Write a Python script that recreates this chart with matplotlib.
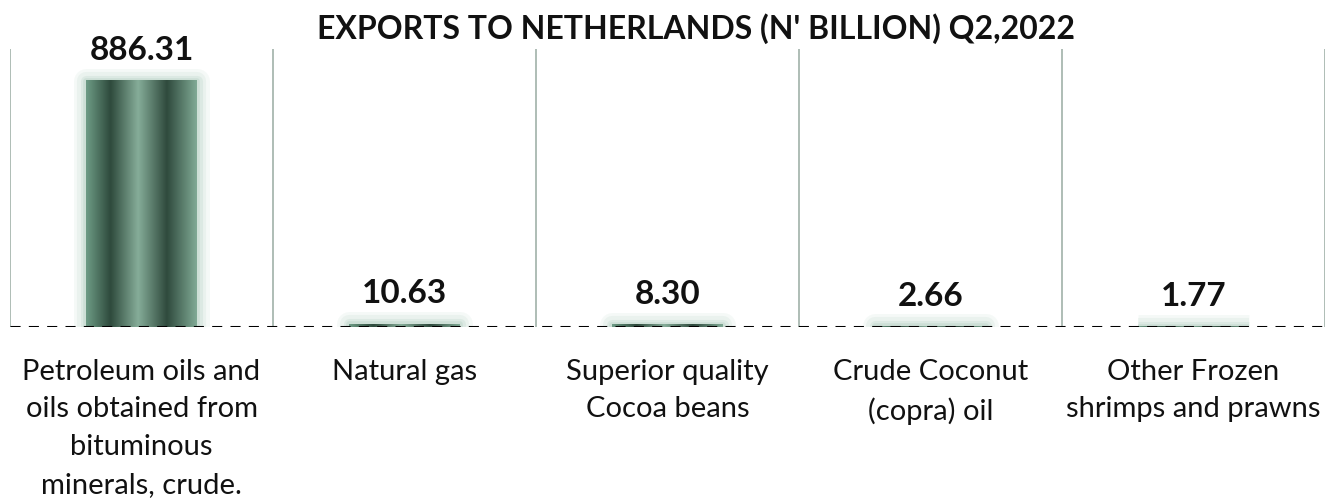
import numpy as np
from matplotlib import pyplot as plt
from matplotlib.colors import LinearSegmentedColormap

plt.rcParams['font.family'] = ['Lato', 'DejaVu Sans']

categories = [
    "Petroleum oils and\noils obtained from\nbituminous\nminerals, crude.",
    "Natural gas",
    "Superior quality\nCocoa beans",
    "Crude Coconut\n(copra) oil",
    "Other Frozen\nshrimps and prawns",
]
values = [886.31, 10.63, 8.30, 2.66, 1.77]

# Striped "cylinder" fill for the bars
stripe = LinearSegmentedColormap.from_list('stripe', [
    (0.00, '#6e9c86'),
    (0.22, '#2e4a3c'),
    (0.47, '#86ad99'),
    (0.73, '#2f4a3d'),
    (1.00, '#80aa95'),
])
gradient = np.linspace(0, 1, 256).reshape(1, -1)

fig = plt.figure(figsize=(13.39, 5.02), dpi=100)
ax = fig.add_axes([10 / 1339, 1 - 328 / 502, 1315 / 1339, 278 / 502])

x = np.arange(len(categories))
width = 0.42

# soft glow around each bar
for lw, a in [(18, 0.07), (13, 0.09), (8, 0.12), (4, 0.16)]:
    ax.bar(x, values, width, color='none', edgecolor='#7fb097', linewidth=lw,
           alpha=a, joinstyle='round', zorder=2)

bars = ax.bar(x, values, width, color='none', zorder=3)
for b in bars:
    x0, w, h = b.get_x(), b.get_width(), b.get_height()
    ax.imshow(gradient, cmap=stripe, aspect='auto', extent=(x0, x0 + w, 0, h),
              interpolation='bicubic', zorder=3)

for b, v in zip(bars, values):
    ax.annotate(f"{v:.2f}", (b.get_x() + b.get_width() / 2, v),
                xytext=(0, 12), textcoords='offset points',
                ha='center', va='bottom', fontsize=24, fontweight='bold',
                color='#111111')

ax.set_xlim(-0.5, len(categories) - 0.5)
ax.set_ylim(0, 1000)

# separators between categories and dashed baseline
for bx in np.arange(-0.5, len(categories), 1):
    ax.axvline(bx, color='#aebdb5', linewidth=1.4, zorder=1)
ax.axhline(0, color='#000000', linewidth=2.2, linestyle=(0, (3.3, 2.7)), zorder=4)

ax.set_xticks(x)
ax.set_xticklabels(categories, fontsize=21, linespacing=1.56, color='#111111')
ax.tick_params(axis='x', length=0, pad=22)
ax.set_yticks([])
for s in ax.spines.values():
    s.set_visible(False)

fig.text(696 / 1339, 1 - 29 / 502, "EXPORTS TO NETHERLANDS (N' BILLION) Q2,2022",
         ha='center', va='center', fontsize=23, fontweight='bold', color='#111111')

fig.savefig('out.png', dpi=100)
